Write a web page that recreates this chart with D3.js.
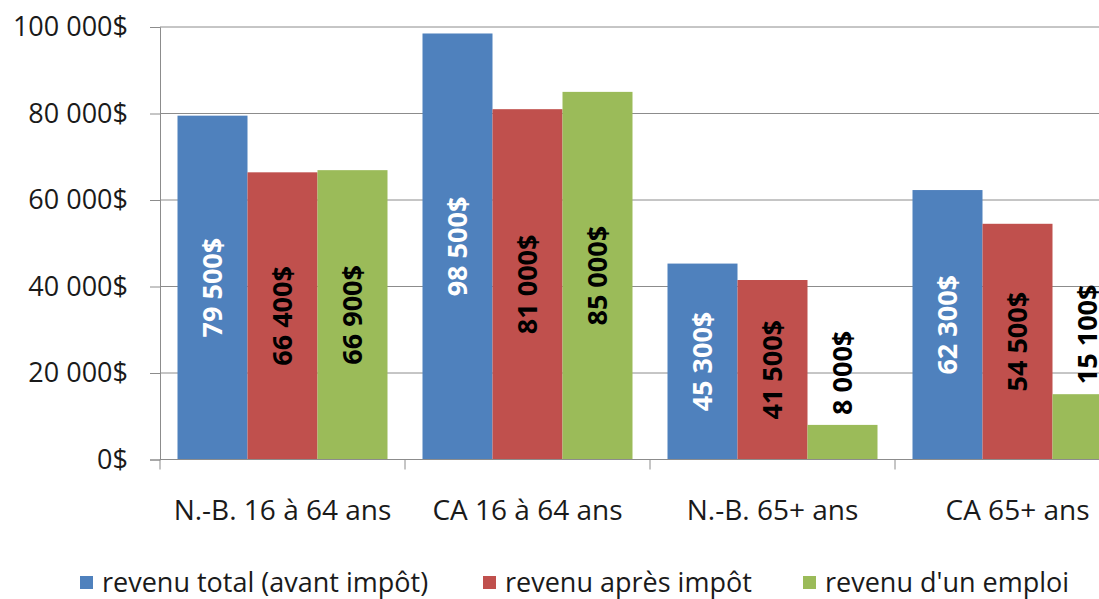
<!DOCTYPE html>
<html>
<head>
<meta charset="utf-8">
<script src="https://cdn.jsdelivr.net/npm/d3@7"></script>
<style>
    html, body { margin: 0; padding: 0; background: #fff; }
    svg { display: block; font-family: "Open Sans", Lato, sans-serif; }
</style>
</head>
<body>
<div id="chart"></div>
<script>
//Données
const categories = ['N.-B. 16 à 64 ans', 'CA 16 à 64 ans', 'N.-B. 65+ ans', 'CA 65+ ans'];
const series = ['revenu total (avant impôt)', 'revenu après impôt', "revenu d'un emploi"];
const revenuTotal = [79500, 98500, 45300, 62300];
const revenuApresImpot = [66400, 81000, 41500, 54500];
const revenuEmploi = [66900, 85000, 8000, 15100];
const yTicks = [0, 20000, 40000, 60000, 80000, 100000];

//Couleurs
const COLORS = ['#4F81BD', '#C0504D', '#9BBB59'];
const LABEL_COLORS = ['#fff', '#000', '#000'];

const values = [revenuTotal, revenuApresImpot, revenuEmploi];
let data = [];
categories.forEach(function(c, i) {
    series.forEach(function(s, j) {
        data.push({ cat: c, serie: s, idx: j, valeur: values[j][i] });
    });
});

const W = 1099, H = 599;
let svg = d3.select('#chart').append('svg')
    .attr('width', W)
    .attr('height', H);

let fmt = function(v) {
    return d3.format(',')(v).replace(/,/g, '\u00a0');
};

let x = d3.scaleBand()
    .domain(categories)
    .range([160, 1140]);

let xInner = d3.scaleBand()
    .domain(series)
    .range([0, x.bandwidth()])
    .paddingOuter(0.25)
    .paddingInner(0);

let y = d3.scaleLinear()
    .domain([0, 100000])
    .range([459.5, 27]);

//Grille
svg.append('g')
    .selectAll('line')
    .data(yTicks.filter(function(d) { return d > 0; }))
    .enter()
    .append('line')
    .attr('x1', 160).attr('x2', W)
    .attr('y1', function(d) { return y(d); })
    .attr('y2', function(d) { return y(d); })
    .attr('stroke', '#8c8c8c')
    .attr('stroke-width', 1);

//Barres
svg.append('g')
    .selectAll('rect')
    .data(data)
    .enter()
    .append('rect')
    .attr('x', function(d) { return x(d.cat) + xInner(d.serie); })
    .attr('y', function(d) { return y(d.valeur); })
    .attr('width', xInner.bandwidth())
    .attr('height', function(d) { return y(0) - y(d.valeur); })
    .attr('fill', function(d) { return COLORS[d.idx]; });

//Axe Y
let yAxis = svg.append('g')
    .attr('transform', 'translate(160,0)')
    .call(d3.axisLeft(y).tickValues(yTicks).tickSize(10).tickPadding(22)
        .tickFormat(function(d) { return fmt(d) + '$'; }));
yAxis.selectAll('.domain').attr('stroke', '#8c8c8c');
yAxis.selectAll('.tick line').attr('stroke', '#8c8c8c');
yAxis.selectAll('.tick text')
    .attr('fill', '#1a1a1a')
    .style('font-size', '27px')
    .style('font-family', '"Open Sans", sans-serif');

//Axe X
let xAxis = svg.append('g')
    .attr('transform', 'translate(0,' + y(0) + ')');
xAxis.append('line')
    .attr('x1', 160).attr('x2', W)
    .attr('stroke', '#8c8c8c');
xAxis.selectAll('.sep')
    .data(categories)
    .enter()
    .append('line')
    .attr('class', 'sep')
    .attr('x1', function(d) { return x(d); })
    .attr('x2', function(d) { return x(d); })
    .attr('y1', 0).attr('y2', 10)
    .attr('stroke', '#8c8c8c');
xAxis.selectAll('text')
    .data(categories)
    .enter()
    .append('text')
    .attr('x', function(d) { return x(d) + x.bandwidth() / 2; })
    .attr('y', 60)
    .attr('text-anchor', 'middle')
    .attr('fill', '#1a1a1a')
    .style('font-size', '28px')
    .text(function(d) { return d; });

//Étiquettes des barres
svg.append('g')
    .selectAll('text')
    .data(data)
    .enter()
    .append('text')
    .attr('text-anchor', 'middle')
    .attr('dy', '0.35em')
    .style('font-size', '27px')
    .style('font-weight', 'bold')
    .text(function(d) { return fmt(d.valeur) + '$'; })
    .each(function(d) {
        let t = d3.select(this);
        let len = this.getComputedTextLength();
        let cx = x(d.cat) + xInner(d.serie) + xInner.bandwidth() / 2;
        let top = y(d.valeur), bottom = y(0);
        let cy, fill;
        if (len + 8 < bottom - top) {
            cy = (top + bottom) / 2;
            fill = LABEL_COLORS[d.idx];
        } else {
            cy = top - 10 - len / 2;
            fill = '#000';
        }
        t.attr('fill', fill)
            .attr('transform', 'translate(' + cx + ',' + cy + ') rotate(-90)');
    });

//Légende
let legend = svg.append('g')
    .attr('transform', 'translate(0,583)');
const legendX = [80, 483, 803];
let items = legend.selectAll('g')
    .data(series)
    .enter()
    .append('g')
    .attr('transform', function(d, i) { return 'translate(' + legendX[i] + ',0)'; });
items.append('rect')
    .attr('x', 0).attr('y', -7)
    .attr('width', 13).attr('height', 13)
    .attr('fill', function(d, i) { return COLORS[i]; });
items.append('text')
    .attr('x', 22)
    .attr('dy', '0.35em')
    .attr('fill', '#1a1a1a')
    .style('font-size', '27px')
    .text(function(d) { return d; });
</script>
</body>
</html>
